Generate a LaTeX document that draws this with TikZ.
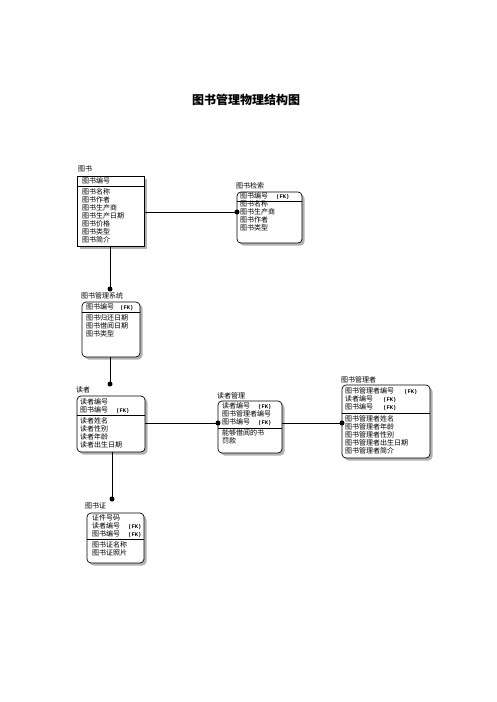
\documentclass[tikz,border=0pt]{standalone}
\usepackage{fontspec}
\setmainfont{Noto Sans CJK SC}
\newfontfamily\fkfont{Liberation Mono}
\usetikzlibrary{fit}
\newcommand\FK[1][8pt]{\hspace{#1}{\fkfont\bfseries\fontsize{5.5}{6}\selectfont (FK)}}
\tikzset{
  ent/.style={draw, line width=0.7pt, fill=white, inner sep=0pt, rectangle},
  rent/.style={ent, rounded corners=4pt},
  shad/.style={fill=gray!60, draw=none},
  txt/.style={anchor=base west, inner sep=0pt, font=\fontsize{7}{8}\selectfont},
  dot/.style={circle, fill=black, inner sep=0pt, minimum size=5pt},
  conn/.style={line width=0.7pt},
  sepline/.style={line width=0.7pt}
}
\newcommand\rowsat[4]{\foreach \t [count=\i from 0] in {#4} {\node[txt] (#1-\i) at (#2,{#3+8*\i}) {\t};}}
\begin{document}
\begin{tikzpicture}[x=1pt,y=-1pt]
\useasboundingbox (0,0) rectangle (496,702);
\node[font=\fontsize{12}{14}\selectfont\bfseries] (title) at (246,100) {图书管理物理结构图};

% ---- 图书
\fill[shad] (79.5,178.5) rectangle (146.5,248.5);
\node[ent, fit={(77,176) (144,246)}] (b1) {};
\draw[sepline] (b1.west |- 0,186) -- (b1.east |- 0,186);
\node[txt] (l1) at (78,171) {图书};
\rowsat{h1}{82}{183}{图书编号}
\rowsat{r1}{82}{194}{图书名称,图书作者,图书生产商,图书生产日期,图书价格,图书类型,图书简介}

% ---- 图书检索
\fill[shad, rounded corners=4pt] (239.5,194.5) rectangle (304.5,245.5);
\node[rent, fit={(237,192) (302,243)}] (b2) {};
\draw[sepline] (b2.west |- 0,201) -- (b2.east |- 0,201);
\node[txt] (l2) at (236,188) {图书检索};
\rowsat{h2}{240}{198}{{图书编号\FK}}
\rowsat{r2}{240}{206.5}{图书名称,图书生产商,图书作者,图书类型}

% ---- 图书管理系统
\fill[shad, rounded corners=4pt] (84.5,304.5) rectangle (142.5,359.5);
\node[rent, fit={(82,302) (140,357)}] (b3) {};
\draw[sepline] (b3.west |- 0,312) -- (b3.east |- 0,312);
\node[txt] (l3) at (81,298) {图书管理系统};
\rowsat{h3}{86}{309}{{图书编号\FK[6pt]}}
\rowsat{r3}{86}{320}{图书归还日期,图书借阅日期,图书类型}

% ---- 读者
\fill[shad, rounded corners=4pt] (79.5,398.5) rectangle (147.5,454.5);
\node[rent, fit={(77,396) (145,452)}] (b4) {};
\draw[sepline] (b4.west |- 0,415) -- (b4.east |- 0,415);
\node[txt] (l4) at (76,392) {读者};
\rowsat{h4}{80}{404}{读者编号,{图书编号\FK}}
\rowsat{r4}{80}{423}{读者姓名,读者性别,读者年龄,读者出生日期}

% ---- 读者管理
\fill[shad, rounded corners=4pt] (220.5,403.5) rectangle (284.5,455.5);
\node[rent, fit={(218,401) (282,453)}] (b5) {};
\draw[sepline] (b5.west |- 0,428) -- (b5.east |- 0,428);
\node[txt] (l5) at (217,398) {读者管理};
\rowsat{h5}{222}{408}{{读者编号\FK},图书管理者编号,{图书编号\FK}}
\rowsat{r5}{222}{435}{能够借阅的书,罚款}

% ---- 图书管理者
\fill[shad, rounded corners=4pt] (344.5,387.5) rectangle (432.5,460.5);
\node[rent, fit={(342,385) (430,458)}] (b6) {};
\draw[sepline] (b6.west |- 0,413) -- (b6.east |- 0,413);
\node[txt] (l6) at (341,382) {图书管理者};
\rowsat{h6}{345}{393}{{图书管理者编号\FK[10pt]},{读者编号\FK[10pt]},{图书编号\FK[10pt]}}
\rowsat{r6}{345}{421}{图书管理者姓名,图书管理者年龄,图书管理者性别,图书管理者出生日期,图书管理者简介}

% ---- 图书证
\fill[shad, rounded corners=4pt] (89.5,515.5) rectangle (146.5,565.5);
\node[rent, fit={(87,513) (144,563)}] (b7) {};
\draw[sepline] (b7.west |- 0,539) -- (b7.east |- 0,539);
\node[txt] (l7) at (85,508) {图书证};
\rowsat{h7}{92}{520}{证件号码,{读者编号\FK},{图书编号\FK}}
\rowsat{r7}{92}{547}{图书证名称,图书证照片}

% ---- connectors
\node[dot] (d12) at (237,212) {};
\draw[conn] (b1.east |- d12) -- (d12.center);
\node[dot] (d13) at (110,289) {};
\draw[conn] (d13 |- b1.south) -- (d13.center);
\node[dot] (d34) at (110,384) {};
\draw[conn] (d34 |- b3.south) -- (d34.center);
\node[dot] (d45) at (218,423) {};
\draw[conn] (b4.east |- d45) -- (d45.center);
\node[dot] (d56) at (342,423) {};
\draw[conn] (b5.east |- d56) -- (d56.center);
\node[dot] (d47) at (112,499) {};
\draw[conn] (d47 |- b4.south) -- (d47.center);
\end{tikzpicture}
\end{document}
